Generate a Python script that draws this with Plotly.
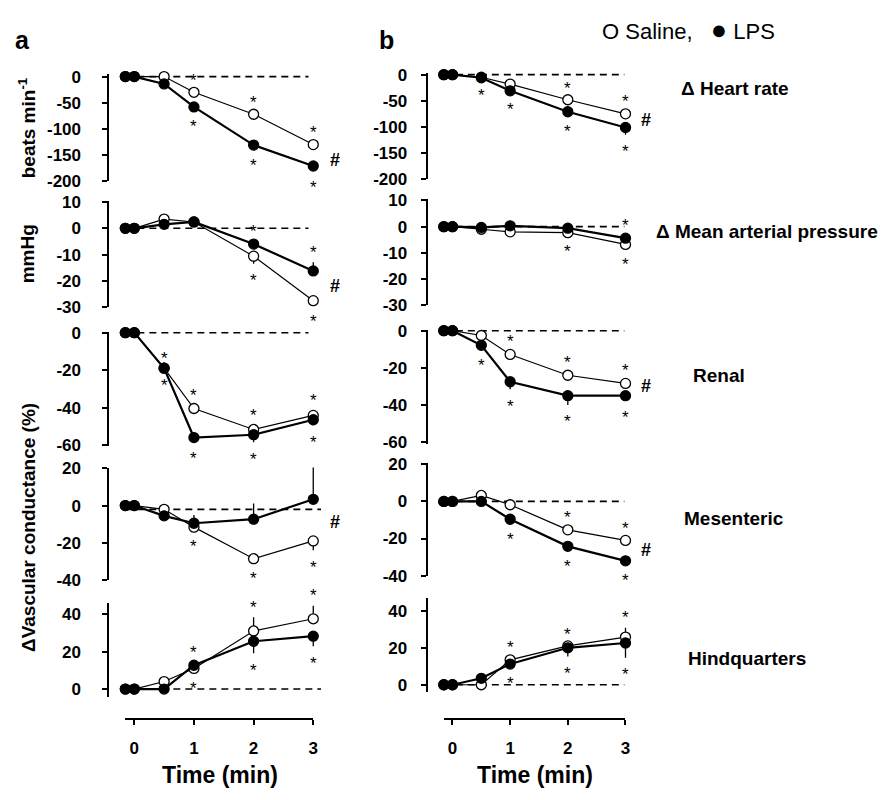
import plotly.graph_objects as go

# target picture size and the html body margin around the figure
W, H = 894, 800
OFF = 8
W_FIG, H_FIG = W - OFF, H - OFF
FONT = "Liberation Sans, Arial, sans-serif"

# ---------------- data ----------------
time_min = [-0.15, 0, 0.5, 1, 2, 3]

# column a
a_hr_saline = [0, 0, 0, -30, -72, -130]
a_hr_lps = [0, 0, -14, -58, -131, -171]
a_map_saline = [0, 0, 3.5, 2.4, -10.6, -27.5]
a_map_lps = [0, 0, 1.5, 2.4, -6, -16.2]
a_ren_saline = [0, 0, -19, -40.5, -51.7, -44.2]
a_ren_lps = [0, 0, -19, -56, -54.5, -46.5]
a_mes_saline = [0, 0, -2, -11.6, -28.6, -19]
a_mes_lps = [0, 0, -5.5, -9.5, -7.3, 3.4]
a_hq_saline = [0, 0, 4, 11, 31, 37.5]
a_hq_lps = [0, 0, 0, 12.7, 25.5, 28.2]

# column b
b_hr_saline = [0, 0, -5, -18, -48, -75]
b_hr_lps = [0, 0, -6, -31, -71, -101]
b_map_saline = [0, 0, -1, -2, -2.3, -6.8]
b_map_lps = [0, 0, -0.3, 0.3, -0.6, -4.4]
b_ren_saline = [0, 0, -2.6, -12.8, -24, -28.4]
b_ren_lps = [0, 0, -7.9, -27.5, -35, -35]
b_mes_saline = [0, 0, 3.2, -1.8, -15.3, -21]
b_mes_lps = [0, 0, 0, -9.6, -24.2, -32]
b_hq_saline = [0, 0, 0, 13.5, 21, 25.8]
b_hq_lps = [0, 0, 3.5, 11.2, 20, 22.6]

# SEM (sign: + drawn upwards, - drawn downwards)
a_hr_saline_err = [0, 0, 0, 3, 4, 4]
a_hr_lps_err = [0, 0, -3, -4, -6, -8]
a_map_saline_err = [0, 0, 0, 0, -2.9, -1.5]
a_map_lps_err = [0, 0, 0, 0, 1, 3.3]
a_ren_saline_err = [0, 0, 0, 1.5, 2, 2.5]
a_ren_lps_err = [0, 0, 3, -2, -4, -3]
a_mes_saline_err = [0, 0, 0, -1.5, -1.5, -5]
a_mes_lps_err = [0, 0, 0, 4.5, 8.5, 19]
a_hq_saline_err = [0, 0, 0, -1.5, 7.3, 7]
a_hq_lps_err = [0, 0, 0, 1.5, -6.4, -5.4]

b_hr_saline_err = [0, 0, 0, 2, 3, 5]
b_hr_lps_err = [0, 0, -2, -4, -5, -14]
b_map_saline_err = [0, 0, 0, 0, -0.8, -1]
b_map_lps_err = [0, 0, 0, 0, 0, 1]
b_ren_saline_err = [0, 0, 0, 1.5, 1.5, 1.5]
b_ren_lps_err = [0, 0, -1.5, -4, -5, -2.5]
b_mes_saline_err = [0, 0, 0, 0, 1, 1]
b_mes_lps_err = [0, 0, 0, -1.5, -1.5, -1.5]
b_hq_saline_err = [0, 0, 0, 1.5, 1, 5]
b_hq_lps_err = [0, 0, 0, -1.5, -4.7, -8]

# significance stars: 'a' above the point, 'b' below, '' none
a_hr_saline_sig = ['', '', '', 'a', 'a', 'a']
a_hr_lps_sig = ['', '', '', 'b', 'b', 'b']
a_map_saline_sig = ['', '', '', '', 'b', 'b']
a_map_lps_sig = ['', '', '', '', 'a', 'a']
a_ren_saline_sig = ['', '', 'a', 'a', 'a', 'a']
a_ren_lps_sig = ['', '', 'b', 'b', 'b', 'b']
a_mes_saline_sig = ['', '', '', 'b', 'b', 'b']
a_mes_lps_sig = ['', '', '', '', '', '']
a_hq_saline_sig = ['', '', '', 'b', 'a', 'a']
a_hq_lps_sig = ['', '', '', 'a', 'b', 'b']

b_hr_saline_sig = ['', '', '', '', 'a', 'a']
b_hr_lps_sig = ['', '', 'b', 'b', 'b', 'b']
b_map_saline_sig = ['', '', '', '', 'b', 'b']
b_map_lps_sig = ['', '', '', '', '', 'a']
b_ren_saline_sig = ['', '', '', 'a', 'a', 'a']
b_ren_lps_sig = ['', '', 'b', 'b', 'b', 'b']
b_mes_saline_sig = ['', '', '', '', 'a', 'a']
b_mes_lps_sig = ['', '', '', 'b', 'b', 'b']
b_hq_saline_sig = ['', '', '', 'a', 'a', 'a']
b_hq_lps_sig = ['', '', '', 'b', 'b', 'b']

panel_names = ["\u0394 Heart rate", "\u0394 Mean arterial pressure", "Renal",
               "Mesenteric", "Hindquarters"]
hr_ticks = [0, -50, -100, -150, -200]
map_ticks = [10, 0, -10, -20, -30]
ren_ticks = [0, -20, -40, -60]
mes_ticks = [20, 0, -20, -40]
hq_ticks = [0, 20, 40]
time_ticks = [0, 1, 2, 3]
# group difference (#) shown for these panels
a_hash = [True, True, False, True, False]
b_hash = [True, False, True, True, False]
a_ref = [0, 0, 0, -2, 0]
b_ref = [0, 0, 0, 0, 0]


# ---------------- layout geometry (pixels of the target image) ----------------
def pxx(p):
    return (p - OFF) / W_FIG


def pxy(p):
    return 1 - (p - OFF) / H_FIG


def tick_text(vals):
    return [f"<b>{v}</b>" for v in vals]


cols = [
    dict(zero=135, ppu=60, left=110, right_t=3.5, bot_left=-0.15, ref_end=[2.92, 2.92, 2.92, 3.13, 3.13],
         standoff=18, hash_x=3.37,
         panels=[
             dict(v1=0, p1=70, v2=-200, p2=177, rng=[-200, 5], ticks=hr_ticks,
                  s=a_hr_saline, l=a_hr_lps, se=a_hr_saline_err, le=a_hr_lps_err,
                  ss=a_hr_saline_sig, ls=a_hr_lps_sig, hash_y=-160),
             dict(v1=10, p1=198.3, v2=-30, p2=306, rng=[-30, 10.5], ticks=map_ticks,
                  s=a_map_saline, l=a_map_lps, se=a_map_saline_err, le=a_map_lps_err,
                  ss=a_map_saline_sig, ls=a_map_lps_sig, hash_y=-21.8),
             dict(v1=0, p1=332, v2=-60, p2=447, rng=[-60.5, 0.3], ticks=ren_ticks,
                  s=a_ren_saline, l=a_ren_lps, se=a_ren_saline_err, le=a_ren_lps_err,
                  ss=a_ren_saline_sig, ls=a_ren_lps_sig, hash_y=None),
             dict(v1=20, p1=471, v2=-40, p2=585, rng=[-40, 20.5], ticks=mes_ticks,
                  s=a_mes_saline, l=a_mes_lps, se=a_mes_saline_err, le=a_mes_lps_err,
                  ss=a_mes_saline_sig, ls=a_mes_lps_sig, hash_y=-8.7),
             dict(v1=40, p1=620, v2=0, p2=696.7, rng=[-4.3, 46], ticks=hq_ticks,
                  s=a_hq_saline, l=a_hq_lps, se=a_hq_saline_err, le=a_hq_lps_err,
                  ss=a_hq_saline_sig, ls=a_hq_lps_sig, hash_y=None),
         ], refs=a_ref, hashes=a_hash),
    dict(zero=455, ppu=58, left=430, right_t=3.5, bot_left=-0.155, ref_end=[2.98] * 5,
         standoff=10, hash_x=3.36,
         panels=[
             dict(v1=0, p1=68, v2=-200, p2=175, rng=[-200, 3], ticks=hr_ticks,
                  s=b_hr_saline, l=b_hr_lps, se=b_hr_saline_err, le=b_hr_lps_err,
                  ss=b_hr_saline_sig, ls=b_hr_lps_sig, hash_y=-86),
             dict(v1=10, p1=196.7, v2=-30, p2=304, rng=[-30, 10.5], ticks=map_ticks,
                  s=b_map_saline, l=b_map_lps, se=b_map_saline_err, le=b_map_lps_err,
                  ss=b_map_saline_sig, ls=b_map_lps_sig, hash_y=None),
             dict(v1=0, p1=330, v2=-60, p2=444, rng=[-61, 0.3], ticks=ren_ticks,
                  s=b_ren_saline, l=b_ren_lps, se=b_ren_saline_err, le=b_ren_lps_err,
                  ss=b_ren_saline_sig, ls=b_ren_lps_sig, hash_y=-30),
             dict(v1=20, p1=466.7, v2=-40, p2=580.7, rng=[-40, 20.5], ticks=mes_ticks,
                  s=b_mes_saline, l=b_mes_lps, se=b_mes_saline_err, le=b_mes_lps_err,
                  ss=b_mes_saline_sig, ls=b_mes_lps_sig, hash_y=-26.3),
             dict(v1=40, p1=616.7, v2=0, p2=692.3, rng=[-4, 46.7], ticks=hq_ticks,
                  s=b_hq_saline, l=b_hq_lps, se=b_hq_saline_err, le=b_hq_lps_err,
                  ss=b_hq_saline_sig, ls=b_hq_lps_sig, hash_y=None),
         ], refs=b_ref, hashes=b_hash),
]

fig = go.Figure()
layout = dict(
    width=W_FIG, height=H_FIG, margin=dict(l=0, r=0, t=0, b=0),
    paper_bgcolor="white", plot_bgcolor="rgba(0,0,0,0)",
    showlegend=False, font=dict(family=FONT, color="black"),
)
annotations = []

idx = 0
for ci, col in enumerate(cols):
    x_lo = (col["left"] - col["zero"]) / col["ppu"]
    x_hi = col["right_t"]
    x_dom = [pxx(col["left"]), pxx(col["zero"] + x_hi * col["ppu"])]
    for pi, pan in enumerate(col["panels"]):
        idx += 1
        xn = "x" if idx == 1 else f"x{idx}"
        yn = "y" if idx == 1 else f"y{idx}"
        xk = "xaxis" if idx == 1 else f"xaxis{idx}"
        yk = "yaxis" if idx == 1 else f"yaxis{idx}"
        scale = (pan["p2"] - pan["p1"]) / (pan["v2"] - pan["v1"])  # px per unit (negative)
        p_lo = pan["p1"] + (pan["rng"][0] - pan["v1"]) * scale
        p_hi = pan["p1"] + (pan["rng"][1] - pan["v1"]) * scale
        y_dom = [pxy(p_lo), pxy(p_hi)]
        layout[xk] = dict(domain=x_dom, range=[x_lo, x_hi], visible=False,
                          anchor=yn, fixedrange=True)
        layout[yk] = dict(domain=y_dom, range=pan["rng"], anchor=xn,
                          showline=True, linecolor="black", linewidth=2,
                          ticks="outside", ticklen=5, tickwidth=2, tickcolor="black",
                          tickvals=pan["ticks"], ticktext=tick_text(pan["ticks"]),
                          showgrid=False, zeroline=False,
                          ticklabelstandoff=col["standoff"],
                          tickfont=dict(family=FONT, size=17, color="black"))
        # dashed reference line
        ref = col["refs"][pi]
        fig.add_trace(go.Scatter(
            x=[time_min[0], col["ref_end"][pi]], y=[ref, ref], mode="lines",
            line=dict(color="black", width=1.6, dash="7px,5px"),
            xaxis=xn, yaxis=yn, hoverinfo="skip"))
        # series
        for vals, errs, filled, lw in ((pan["s"], pan["se"], False, 1.2),
                                       (pan["l"], pan["le"], True, 2.2)):
            up = [e if e > 0 else 0 for e in errs]
            dn = [-e if e < 0 else 0 for e in errs]
            fig.add_trace(go.Scatter(
                x=time_min, y=vals, mode="lines+markers",
                line=dict(color="black", width=lw),
                marker=dict(size=10, color="black" if filled else "white",
                            line=dict(color="black", width=1.3)),
                error_y=dict(type="data", symmetric=False, array=up, arrayminus=dn,
                             color="black", thickness=1.3, width=0),
                cliponaxis=False, xaxis=xn, yaxis=yn))
        # stars
        for vals, errs, sig in ((pan["s"], pan["se"], pan["ss"]),
                                (pan["l"], pan["le"], pan["ls"])):
            for t, v, e, s in zip(time_min, vals, errs, sig):
                if not s:
                    continue
                if s == "a":
                    yv = v + max(e, 0)
                    shift = 10
                else:
                    yv = v + min(e, 0)
                    shift = -17
                annotations.append(dict(
                    x=t, y=yv, xref=xn, yref=yn, text="*", showarrow=False,
                    xanchor="center", yanchor="middle",
                    yshift=shift, font=dict(family=FONT, size=17, color="black")))
        if col["hashes"][pi]:
            annotations.append(dict(
                x=col["hash_x"], y=pan["hash_y"], xref=xn, yref=yn, text="<b>#</b>",
                xanchor="center", yanchor="middle",
                showarrow=False, font=dict(family=FONT, size=18, color="black")))
    # bottom time axis
    idx += 1
    xn = f"x{idx}"
    yn = f"y{idx}"
    layout[f"xaxis{idx}"] = dict(
        domain=[pxx(col["zero"] + col["bot_left"] * col["ppu"]), pxx(col["zero"] + 3 * col["ppu"])],
        range=[col["bot_left"], 3], anchor="free", position=pxy(727),
        showline=True, linecolor="black", linewidth=2, ticks="outside", ticklen=5,
        tickwidth=2, tickcolor="black", tickvals=time_ticks, ticktext=tick_text(time_ticks),
        showgrid=False, zeroline=False, ticklabelstandoff=9,
        tickfont=dict(family=FONT, size=17, color="black"))
    layout[f"yaxis{idx}"] = dict(domain=[pxy(730), pxy(725)], visible=False,
                                 anchor=xn, range=[0, 1])
    fig.add_trace(go.Scatter(x=[None], y=[None], mode="markers", xaxis=xn, yaxis=yn,
                             hoverinfo="skip"))
    annotations.append(dict(x=pxx(col["zero"] + 1.43 * col["ppu"]), y=pxy(785),
                            xref="paper", yref="paper", xanchor="center", yanchor="middle",
                            showarrow=False, text="<b>Time (min)</b>",
                            font=dict(family=FONT, size=23, color="black")))

# panel titles on the right
title_y = [82, 229, 376, 522, 665]
title_x = [683, 658, 695, 686, 690]
for name, tx, ty in zip(panel_names, title_x, title_y):
    annotations.append(dict(x=pxx(tx), y=pxy(ty), xref="paper", yref="paper",
                            xanchor="left", yanchor="middle", showarrow=False,
                            text=f"<b>{name}</b>",
                            font=dict(family=FONT, size=19, color="black")))

# y-axis titles
for txt, yc in (("<b>beats min<sup>-1</sup></b>", 122),
                ("<b>mmHg</b>", 251),
                ("<b>\u0394Vascular conductance (%)</b>", 531)):
    annotations.append(dict(x=pxx(28), y=pxy(yc), xref="paper", yref="paper",
                            textangle=-90, showarrow=False, text=txt,
                            xanchor="center", yanchor="middle",
                            font=dict(family=FONT, size=19, color="black")))

# panel letters
for letter, lx in (("a", 23), ("b", 389)):
    annotations.append(dict(x=pxx(lx), y=pxy(33), xref="paper", yref="paper",
                            xanchor="center", yanchor="middle",
                            showarrow=False, text=f"<b>{letter}</b>",
                            font=dict(family=FONT, size=25, color="black")))

# legend text
annotations.append(dict(x=pxx(603), y=pxy(22), xref="paper", yref="paper",
                        xanchor="left", yanchor="middle", showarrow=False,
                        text="O Saline,   <span style='font-size:27px'>\u25cf</span> LPS",
                        font=dict(family=FONT, size=22, color="black")))

layout["annotations"] = annotations
fig.update_layout(**layout)
fig.write_html("out.html")
